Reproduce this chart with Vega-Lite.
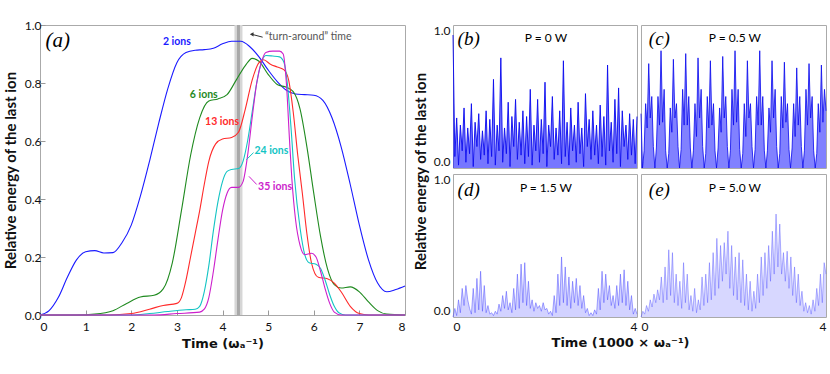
{
"$schema":"https://vega.github.io/schema/vega-lite/v6.json",
"padding":{"left":2,"top":18,"right":4,"bottom":4},
"config":{"font":"Lato","view":{"stroke":"#aaa"},
 "axis":{"grid":false,"domain":false,"labelFont":"Lato","labelFontSize":12,"labelColor":"#111","tickColor":"#999","titleFont":"Lato","titleFontSize":15,"titleFontWeight":"bold","titleColor":"#111"},
 "title":{"font":"Lato","fontSize":15,"fontWeight":"bold","color":"#111"}},
"datasets":{
"a":[
{"s":"2 ions","t":0,"e":0},{"s":"2 ions","t":0.2,"e":0.015},{"s":"2 ions","t":0.4,"e":0.06},{"s":"2 ions","t":0.6,"e":0.13},{"s":"2 ions","t":0.8,"e":0.19},{"s":"2 ions","t":1.0,"e":0.218},{"s":"2 ions","t":1.2,"e":0.222},{"s":"2 ions","t":1.4,"e":0.214},{"s":"2 ions","t":1.6,"e":0.215},{"s":"2 ions","t":1.8,"e":0.25},{"s":"2 ions","t":2.0,"e":0.31},{"s":"2 ions","t":2.2,"e":0.41},{"s":"2 ions","t":2.4,"e":0.53},{"s":"2 ions","t":2.6,"e":0.66},{"s":"2 ions","t":2.8,"e":0.78},{"s":"2 ions","t":3.0,"e":0.87},{"s":"2 ions","t":3.2,"e":0.905},{"s":"2 ions","t":3.4,"e":0.913},{"s":"2 ions","t":3.6,"e":0.915},{"s":"2 ions","t":3.8,"e":0.92},{"s":"2 ions","t":4.0,"e":0.935},{"s":"2 ions","t":4.2,"e":0.944},{"s":"2 ions","t":4.4,"e":0.944},{"s":"2 ions","t":4.6,"e":0.925},{"s":"2 ions","t":4.8,"e":0.89},{"s":"2 ions","t":5.0,"e":0.845},{"s":"2 ions","t":5.2,"e":0.805},{"s":"2 ions","t":5.4,"e":0.775},{"s":"2 ions","t":5.6,"e":0.762},{"s":"2 ions","t":5.8,"e":0.76},{"s":"2 ions","t":6.0,"e":0.758},{"s":"2 ions","t":6.2,"e":0.74},{"s":"2 ions","t":6.4,"e":0.68},{"s":"2 ions","t":6.6,"e":0.58},{"s":"2 ions","t":6.8,"e":0.45},{"s":"2 ions","t":7.0,"e":0.31},{"s":"2 ions","t":7.2,"e":0.19},{"s":"2 ions","t":7.4,"e":0.11},{"s":"2 ions","t":7.6,"e":0.08},{"s":"2 ions","t":7.8,"e":0.088},{"s":"2 ions","t":8.0,"e":0.1},
{"s":"6 ions","t":0,"e":0},{"s":"6 ions","t":0.8,"e":0},{"s":"6 ions","t":1.2,"e":0.003},{"s":"6 ions","t":1.6,"e":0.015},{"s":"6 ions","t":1.9,"e":0.04},{"s":"6 ions","t":2.2,"e":0.062},{"s":"6 ions","t":2.5,"e":0.068},{"s":"6 ions","t":2.7,"e":0.09},{"s":"6 ions","t":2.9,"e":0.18},{"s":"6 ions","t":3.1,"e":0.36},{"s":"6 ions","t":3.3,"e":0.55},{"s":"6 ions","t":3.5,"e":0.68},{"s":"6 ions","t":3.7,"e":0.738},{"s":"6 ions","t":3.9,"e":0.745},{"s":"6 ions","t":4.1,"e":0.76},{"s":"6 ions","t":4.3,"e":0.81},{"s":"6 ions","t":4.5,"e":0.86},{"s":"6 ions","t":4.65,"e":0.885},{"s":"6 ions","t":4.8,"e":0.875},{"s":"6 ions","t":5.0,"e":0.83},{"s":"6 ions","t":5.2,"e":0.795},{"s":"6 ions","t":5.4,"e":0.785},{"s":"6 ions","t":5.55,"e":0.77},{"s":"6 ions","t":5.7,"e":0.71},{"s":"6 ions","t":5.85,"e":0.58},{"s":"6 ions","t":6.0,"e":0.42},{"s":"6 ions","t":6.15,"e":0.27},{"s":"6 ions","t":6.3,"e":0.16},{"s":"6 ions","t":6.45,"e":0.105},{"s":"6 ions","t":6.6,"e":0.093},{"s":"6 ions","t":6.8,"e":0.097},{"s":"6 ions","t":7.0,"e":0.08},{"s":"6 ions","t":7.2,"e":0.045},{"s":"6 ions","t":7.4,"e":0.015},{"s":"6 ions","t":7.6,"e":0.003},{"s":"6 ions","t":8.0,"e":0},
{"s":"13 ions","t":0,"e":0},{"s":"13 ions","t":1.5,"e":0},{"s":"13 ions","t":2.0,"e":0.005},{"s":"13 ions","t":2.4,"e":0.02},{"s":"13 ions","t":2.7,"e":0.033},{"s":"13 ions","t":3.0,"e":0.04},{"s":"13 ions","t":3.1,"e":0.06},{"s":"13 ions","t":3.2,"e":0.12},{"s":"13 ions","t":3.3,"e":0.2},{"s":"13 ions","t":3.4,"e":0.28},{"s":"13 ions","t":3.5,"e":0.36},{"s":"13 ions","t":3.6,"e":0.45},{"s":"13 ions","t":3.7,"e":0.53},{"s":"13 ions","t":3.85,"e":0.59},{"s":"13 ions","t":4.0,"e":0.607},{"s":"13 ions","t":4.2,"e":0.612},{"s":"13 ions","t":4.35,"e":0.63},{"s":"13 ions","t":4.5,"e":0.71},{"s":"13 ions","t":4.65,"e":0.81},{"s":"13 ions","t":4.8,"e":0.87},{"s":"13 ions","t":4.9,"e":0.88},{"s":"13 ions","t":5.05,"e":0.865},{"s":"13 ions","t":5.2,"e":0.855},{"s":"13 ions","t":5.35,"e":0.845},{"s":"13 ions","t":5.45,"e":0.81},{"s":"13 ions","t":5.55,"e":0.7},{"s":"13 ions","t":5.65,"e":0.55},{"s":"13 ions","t":5.75,"e":0.42},{"s":"13 ions","t":5.85,"e":0.28},{"s":"13 ions","t":5.95,"e":0.18},{"s":"13 ions","t":6.1,"e":0.13},{"s":"13 ions","t":6.3,"e":0.125},{"s":"13 ions","t":6.45,"e":0.11},{"s":"13 ions","t":6.6,"e":0.08},{"s":"13 ions","t":6.8,"e":0.03},{"s":"13 ions","t":7.0,"e":0.005},{"s":"13 ions","t":7.2,"e":0},{"s":"13 ions","t":8.0,"e":0},
{"s":"24 ions","t":0,"e":0},{"s":"24 ions","t":2.0,"e":0},{"s":"24 ions","t":2.4,"e":0.005},{"s":"24 ions","t":2.8,"e":0.012},{"s":"24 ions","t":3.2,"e":0.018},{"s":"24 ions","t":3.4,"e":0.02},{"s":"24 ions","t":3.5,"e":0.03},{"s":"24 ions","t":3.6,"e":0.08},{"s":"24 ions","t":3.7,"e":0.17},{"s":"24 ions","t":3.8,"e":0.29},{"s":"24 ions","t":3.9,"e":0.39},{"s":"24 ions","t":4.0,"e":0.46},{"s":"24 ions","t":4.1,"e":0.495},{"s":"24 ions","t":4.2,"e":0.502},{"s":"24 ions","t":4.35,"e":0.505},{"s":"24 ions","t":4.45,"e":0.53},{"s":"24 ions","t":4.55,"e":0.6},{"s":"24 ions","t":4.65,"e":0.7},{"s":"24 ions","t":4.75,"e":0.8},{"s":"24 ions","t":4.85,"e":0.87},{"s":"24 ions","t":4.95,"e":0.895},{"s":"24 ions","t":5.1,"e":0.893},{"s":"24 ions","t":5.25,"e":0.89},{"s":"24 ions","t":5.35,"e":0.87},{"s":"24 ions","t":5.42,"e":0.8},{"s":"24 ions","t":5.5,"e":0.65},{"s":"24 ions","t":5.58,"e":0.47},{"s":"24 ions","t":5.7,"e":0.3},{"s":"24 ions","t":5.8,"e":0.21},{"s":"24 ions","t":5.9,"e":0.18},{"s":"24 ions","t":6.05,"e":0.175},{"s":"24 ions","t":6.15,"e":0.16},{"s":"24 ions","t":6.25,"e":0.12},{"s":"24 ions","t":6.35,"e":0.07},{"s":"24 ions","t":6.45,"e":0.03},{"s":"24 ions","t":6.55,"e":0.008},{"s":"24 ions","t":6.7,"e":0},{"s":"24 ions","t":8.0,"e":0},
{"s":"35 ions","t":0,"e":0},{"s":"35 ions","t":2.5,"e":0},{"s":"35 ions","t":3.0,"e":0.005},{"s":"35 ions","t":3.5,"e":0.01},{"s":"35 ions","t":3.6,"e":0.02},{"s":"35 ions","t":3.7,"e":0.06},{"s":"35 ions","t":3.8,"e":0.15},{"s":"35 ions","t":3.9,"e":0.26},{"s":"35 ions","t":4.0,"e":0.36},{"s":"35 ions","t":4.1,"e":0.42},{"s":"35 ions","t":4.2,"e":0.44},{"s":"35 ions","t":4.35,"e":0.44},{"s":"35 ions","t":4.45,"e":0.46},{"s":"35 ions","t":4.55,"e":0.55},{"s":"35 ions","t":4.65,"e":0.68},{"s":"35 ions","t":4.75,"e":0.8},{"s":"35 ions","t":4.85,"e":0.87},{"s":"35 ions","t":4.95,"e":0.905},{"s":"35 ions","t":5.1,"e":0.91},{"s":"35 ions","t":5.25,"e":0.91},{"s":"35 ions","t":5.33,"e":0.9},{"s":"35 ions","t":5.4,"e":0.8},{"s":"35 ions","t":5.47,"e":0.6},{"s":"35 ions","t":5.52,"e":0.47},{"s":"35 ions","t":5.6,"e":0.33},{"s":"35 ions","t":5.7,"e":0.24},{"s":"35 ions","t":5.8,"e":0.208},{"s":"35 ions","t":5.95,"e":0.213},{"s":"35 ions","t":6.05,"e":0.2},{"s":"35 ions","t":6.15,"e":0.15},{"s":"35 ions","t":6.25,"e":0.09},{"s":"35 ions","t":6.35,"e":0.04},{"s":"35 ions","t":6.45,"e":0.01},{"s":"35 ions","t":6.6,"e":0},{"s":"35 ions","t":8.0,"e":0}
],
"b":[
{"t":0,"e":0.93},{"t":0.04,"e":0.08},{"t":0.08,"e":0.35},{"t":0.12,"e":0.02},{"t":0.16,"e":0.3},{"t":0.2,"e":0.12},{"t":0.24,"e":0.42},{"t":0.28,"e":0.04},{"t":0.32,"e":0.28},{"t":0.36,"e":0.1},
{"t":0.4,"e":0.45},{"t":0.44,"e":0.01},{"t":0.48,"e":0.32},{"t":0.52,"e":0.15},{"t":0.56,"e":0.38},{"t":0.6,"e":0.06},{"t":0.64,"e":0.26},{"t":0.68,"e":0.09},{"t":0.72,"e":0.4},{"t":0.76,"e":0.03},
{"t":0.8,"e":0.34},{"t":0.84,"e":0.08},{"t":0.88,"e":0.62},{"t":0.92,"e":0.02},{"t":0.96,"e":0.3},{"t":1.0,"e":0.12},{"t":1.04,"e":0.77},{"t":1.08,"e":0.04},{"t":1.12,"e":0.28},{"t":1.16,"e":0.1},
{"t":1.2,"e":0.46},{"t":1.24,"e":0.01},{"t":1.28,"e":0.36},{"t":1.32,"e":0.15},{"t":1.36,"e":0.48},{"t":1.4,"e":0.06},{"t":1.44,"e":0.32},{"t":1.48,"e":0.09},{"t":1.52,"e":0.4},{"t":1.56,"e":0.03},
{"t":1.6,"e":0.36},{"t":1.64,"e":0.08},{"t":1.68,"e":0.55},{"t":1.72,"e":0.02},{"t":1.76,"e":0.3},{"t":1.8,"e":0.12},{"t":1.84,"e":0.48},{"t":1.88,"e":0.04},{"t":1.92,"e":0.34},{"t":1.96,"e":0.1},
{"t":2.0,"e":0.6},{"t":2.04,"e":0.01},{"t":2.08,"e":0.3},{"t":2.12,"e":0.15},{"t":2.16,"e":0.5},{"t":2.2,"e":0.06},{"t":2.24,"e":0.28},{"t":2.28,"e":0.09},{"t":2.32,"e":0.4},{"t":2.36,"e":0.03},
{"t":2.4,"e":0.75},{"t":2.44,"e":0.08},{"t":2.48,"e":0.32},{"t":2.52,"e":0.02},{"t":2.56,"e":0.42},{"t":2.6,"e":0.12},{"t":2.64,"e":0.3},{"t":2.68,"e":0.04},{"t":2.72,"e":0.46},{"t":2.76,"e":0.1},
{"t":2.8,"e":0.28},{"t":2.84,"e":0.01},{"t":2.88,"e":0.52},{"t":2.92,"e":0.15},{"t":2.96,"e":0.34},{"t":3.0,"e":0.06},{"t":3.04,"e":0.4},{"t":3.08,"e":0.09},{"t":3.12,"e":0.3},{"t":3.16,"e":0.03},
{"t":3.2,"e":0.44},{"t":3.24,"e":0.08},{"t":3.28,"e":0.36},{"t":3.32,"e":0.02},{"t":3.36,"e":0.72},{"t":3.4,"e":0.12},{"t":3.44,"e":0.32},{"t":3.48,"e":0.04},{"t":3.52,"e":0.48},{"t":3.56,"e":0.1},
{"t":3.6,"e":0.56},{"t":3.64,"e":0.01},{"t":3.68,"e":0.4},{"t":3.72,"e":0.15},{"t":3.76,"e":0.3},{"t":3.8,"e":0.06},{"t":3.84,"e":0.38},{"t":3.88,"e":0.09},{"t":3.92,"e":0.34},{"t":3.96,"e":0.03},
{"t":4.0,"e":0.36}
],
"c":[
{"t":0,"e":0.38},
{"t":0.033,"e":0.0},{"t":0.067,"e":0.12},{"t":0.1,"e":0.45},{"t":0.133,"e":0.28},{"t":0.167,"e":0.73},{"t":0.2,"e":0.35},{"t":0.233,"e":0.5},{"t":0.267,"e":0.15},
{"t":0.3,"e":0.0},{"t":0.333,"e":0.14},{"t":0.367,"e":0.5},{"t":0.4,"e":0.3},{"t":0.433,"e":0.82},{"t":0.467,"e":0.32},{"t":0.5,"e":0.55},{"t":0.533,"e":0.12},
{"t":0.567,"e":0.0},{"t":0.6,"e":0.1},{"t":0.633,"e":0.42},{"t":0.667,"e":0.25},{"t":0.7,"e":0.76},{"t":0.733,"e":0.35},{"t":0.767,"e":0.45},{"t":0.8,"e":0.15},
{"t":0.833,"e":0.0},{"t":0.867,"e":0.13},{"t":0.9,"e":0.55},{"t":0.933,"e":0.3},{"t":0.967,"e":0.8},{"t":1.0,"e":0.3},{"t":1.033,"e":0.5},{"t":1.067,"e":0.14},
{"t":1.1,"e":0.0},{"t":1.133,"e":0.12},{"t":1.167,"e":0.45},{"t":1.2,"e":0.22},{"t":1.233,"e":0.77},{"t":1.267,"e":0.35},{"t":1.3,"e":0.55},{"t":1.333,"e":0.15},
{"t":1.367,"e":0.0},{"t":1.4,"e":0.1},{"t":1.433,"e":0.5},{"t":1.467,"e":0.28},{"t":1.5,"e":0.75},{"t":1.533,"e":0.3},{"t":1.567,"e":0.45},{"t":1.6,"e":0.12},
{"t":1.633,"e":0.0},{"t":1.667,"e":0.14},{"t":1.7,"e":0.42},{"t":1.733,"e":0.25},{"t":1.767,"e":0.78},{"t":1.8,"e":0.35},{"t":1.833,"e":0.5},{"t":1.867,"e":0.15},
{"t":1.9,"e":0.0},{"t":1.933,"e":0.12},{"t":1.967,"e":0.55},{"t":2.0,"e":0.3},{"t":2.033,"e":0.82},{"t":2.067,"e":0.32},{"t":2.1,"e":0.55},{"t":2.133,"e":0.13},
{"t":2.167,"e":0.0},{"t":2.2,"e":0.1},{"t":2.233,"e":0.45},{"t":2.267,"e":0.22},{"t":2.3,"e":0.75},{"t":2.333,"e":0.35},{"t":2.367,"e":0.45},{"t":2.4,"e":0.15},
{"t":2.433,"e":0.0},{"t":2.467,"e":0.13},{"t":2.5,"e":0.5},{"t":2.533,"e":0.3},{"t":2.567,"e":0.82},{"t":2.6,"e":0.3},{"t":2.633,"e":0.5},{"t":2.667,"e":0.12},
{"t":2.7,"e":0.0},{"t":2.733,"e":0.12},{"t":2.767,"e":0.42},{"t":2.8,"e":0.25},{"t":2.833,"e":0.75},{"t":2.867,"e":0.35},{"t":2.9,"e":0.55},{"t":2.933,"e":0.15},
{"t":2.967,"e":0.0},{"t":3.0,"e":0.1},{"t":3.033,"e":0.5},{"t":3.067,"e":0.28},{"t":3.1,"e":0.74},{"t":3.133,"e":0.32},{"t":3.167,"e":0.45},{"t":3.2,"e":0.13},
{"t":3.233,"e":0.0},{"t":3.267,"e":0.14},{"t":3.3,"e":0.45},{"t":3.333,"e":0.22},{"t":3.367,"e":0.7},{"t":3.4,"e":0.3},{"t":3.433,"e":0.5},{"t":3.467,"e":0.15},
{"t":3.5,"e":0.0},{"t":3.533,"e":0.12},{"t":3.567,"e":0.55},{"t":3.6,"e":0.3},{"t":3.633,"e":0.73},{"t":3.667,"e":0.35},{"t":3.7,"e":0.5},{"t":3.733,"e":0.12},
{"t":3.767,"e":0.0},{"t":3.8,"e":0.1},{"t":3.833,"e":0.45},{"t":3.867,"e":0.25},{"t":3.9,"e":0.72},{"t":3.933,"e":0.32},{"t":3.967,"e":0.55},{"t":4.0,"e":0.4}
],
"d":[
{"t":0,"e":0},{"t":0.04,"e":0.06},{"t":0.08,"e":0.01},{"t":0.12,"e":0.12},{"t":0.16,"e":0.03},{"t":0.2,"e":0.2},{"t":0.24,"e":0.08},{"t":0.28,"e":0.22},{"t":0.32,"e":0.12},{"t":0.36,"e":0.06},
{"t":0.4,"e":0.02},{"t":0.44,"e":0.2},{"t":0.48,"e":0.03},{"t":0.52,"e":0.27},{"t":0.56,"e":0.05},{"t":0.6,"e":0.32},{"t":0.64,"e":0.04},{"t":0.68,"e":0.22},{"t":0.72,"e":0.03},{"t":0.76,"e":0.08},
{"t":0.8,"e":0.02},{"t":0.84,"e":0.03},{"t":0.88,"e":0.01},{"t":0.92,"e":0.04},{"t":0.96,"e":0.02},{"t":1.0,"e":0.09},{"t":1.04,"e":0.04},{"t":1.08,"e":0.15},{"t":1.12,"e":0.06},{"t":1.16,"e":0.18},
{"t":1.2,"e":0.05},{"t":1.24,"e":0.1},{"t":1.28,"e":0.03},{"t":1.32,"e":0.2},{"t":1.36,"e":0.05},{"t":1.4,"e":0.3},{"t":1.44,"e":0.06},{"t":1.48,"e":0.37},{"t":1.52,"e":0.1},{"t":1.56,"e":0.38},
{"t":1.6,"e":0.08},{"t":1.64,"e":0.25},{"t":1.68,"e":0.06},{"t":1.72,"e":0.12},{"t":1.76,"e":0.04},{"t":1.8,"e":0.1},{"t":1.84,"e":0.06},{"t":1.88,"e":0.08},{"t":1.92,"e":0.04},{"t":1.96,"e":0.1},
{"t":2.0,"e":0.05},{"t":2.04,"e":0.06},{"t":2.08,"e":0.02},{"t":2.12,"e":0.04},{"t":2.16,"e":0.01},{"t":2.2,"e":0.15},{"t":2.24,"e":0.03},{"t":2.28,"e":0.3},{"t":2.32,"e":0.08},{"t":2.36,"e":0.42},
{"t":2.4,"e":0.1},{"t":2.44,"e":0.35},{"t":2.48,"e":0.08},{"t":2.52,"e":0.28},{"t":2.56,"e":0.06},{"t":2.6,"e":0.25},{"t":2.64,"e":0.1},{"t":2.68,"e":0.27},{"t":2.72,"e":0.08},{"t":2.76,"e":0.22},
{"t":2.8,"e":0.06},{"t":2.84,"e":0.15},{"t":2.88,"e":0.03},{"t":2.92,"e":0.06},{"t":2.96,"e":0.01},{"t":3.0,"e":0.03},{"t":3.04,"e":0.01},{"t":3.08,"e":0.05},{"t":3.12,"e":0.02},{"t":3.16,"e":0.2},
{"t":3.2,"e":0.05},{"t":3.24,"e":0.32},{"t":3.28,"e":0.1},{"t":3.32,"e":0.3},{"t":3.36,"e":0.12},{"t":3.4,"e":0.22},{"t":3.44,"e":0.08},{"t":3.48,"e":0.15},{"t":3.52,"e":0.06},{"t":3.56,"e":0.22},
{"t":3.6,"e":0.08},{"t":3.64,"e":0.3},{"t":3.68,"e":0.1},{"t":3.72,"e":0.33},{"t":3.76,"e":0.08},{"t":3.8,"e":0.25},{"t":3.84,"e":0.05},{"t":3.88,"e":0.15},{"t":3.92,"e":0.02},{"t":3.96,"e":0.06},
{"t":4.0,"e":0.02}
],
"e":[
{"t":0,"e":0},{"t":0.04,"e":0.04},{"t":0.08,"e":0.02},{"t":0.12,"e":0.08},{"t":0.16,"e":0.04},{"t":0.2,"e":0.12},{"t":0.24,"e":0.07},{"t":0.28,"e":0.16},{"t":0.32,"e":0.1},{"t":0.36,"e":0.19},
{"t":0.4,"e":0.12},{"t":0.44,"e":0.28},{"t":0.48,"e":0.1},{"t":0.52,"e":0.35},{"t":0.56,"e":0.12},{"t":0.6,"e":0.47},{"t":0.64,"e":0.15},{"t":0.68,"e":0.45},{"t":0.72,"e":0.1},{"t":0.76,"e":0.3},
{"t":0.8,"e":0.08},{"t":0.84,"e":0.25},{"t":0.88,"e":0.06},{"t":0.92,"e":0.38},{"t":0.96,"e":0.1},{"t":1.0,"e":0.3},{"t":1.04,"e":0.05},{"t":1.08,"e":0.15},{"t":1.12,"e":0.04},{"t":1.16,"e":0.2},
{"t":1.2,"e":0.03},{"t":1.24,"e":0.12},{"t":1.28,"e":0.05},{"t":1.32,"e":0.28},{"t":1.36,"e":0.08},{"t":1.4,"e":0.3},{"t":1.44,"e":0.1},{"t":1.48,"e":0.38},{"t":1.52,"e":0.12},{"t":1.56,"e":0.45},
{"t":1.6,"e":0.15},{"t":1.64,"e":0.55},{"t":1.68,"e":0.2},{"t":1.72,"e":0.5},{"t":1.76,"e":0.25},{"t":1.8,"e":0.52},{"t":1.84,"e":0.3},{"t":1.88,"e":0.6},{"t":1.92,"e":0.2},{"t":1.96,"e":0.5},
{"t":2.0,"e":0.15},{"t":2.04,"e":0.42},{"t":2.08,"e":0.12},{"t":2.12,"e":0.45},{"t":2.16,"e":0.1},{"t":2.2,"e":0.4},{"t":2.24,"e":0.08},{"t":2.28,"e":0.3},{"t":2.32,"e":0.05},{"t":2.36,"e":0.25},
{"t":2.4,"e":0.04},{"t":2.44,"e":0.18},{"t":2.48,"e":0.06},{"t":2.52,"e":0.3},{"t":2.56,"e":0.1},{"t":2.6,"e":0.42},{"t":2.64,"e":0.15},{"t":2.68,"e":0.45},{"t":2.72,"e":0.2},{"t":2.76,"e":0.5},
{"t":2.8,"e":0.25},{"t":2.84,"e":0.6},{"t":2.88,"e":0.3},{"t":2.92,"e":0.72},{"t":2.96,"e":0.35},{"t":3.0,"e":0.65},{"t":3.04,"e":0.3},{"t":3.08,"e":0.45},{"t":3.12,"e":0.25},{"t":3.16,"e":0.46},
{"t":3.2,"e":0.2},{"t":3.24,"e":0.42},{"t":3.28,"e":0.15},{"t":3.32,"e":0.35},{"t":3.36,"e":0.1},{"t":3.4,"e":0.3},{"t":3.44,"e":0.08},{"t":3.48,"e":0.18},{"t":3.52,"e":0.04},{"t":3.56,"e":0.1},
{"t":3.6,"e":0.03},{"t":3.64,"e":0.08},{"t":3.68,"e":0.02},{"t":3.72,"e":0.12},{"t":3.76,"e":0.04},{"t":3.8,"e":0.2},{"t":3.84,"e":0.08},{"t":3.88,"e":0.3},{"t":3.92,"e":0.1},{"t":3.96,"e":0.38},
{"t":4.0,"e":0.3}
]
},
"spacing":4,
"hconcat":[
{
 "width":365,"height":290,
 "layer":[
  {"data":{"values":[{}]},"mark":{"type":"rule","color":"#d6d6d6","strokeWidth":8},"encoding":{"x":{"datum":4.35}}},
  {"data":{"values":[{}]},"mark":{"type":"rule","color":"#a8a8a8","strokeWidth":3},"encoding":{"x":{"datum":4.35}}},
  {"data":{"name":"a"},"mark":{"type":"line","interpolate":"monotone","strokeWidth":1.1},
   "encoding":{
    "x":{"field":"t","type":"quantitative","scale":{"domain":[0,8],"nice":false},"axis":{"values":[0,1,2,3,4,5,6,7,8],"title":"Time  (ωₐ⁻¹)","titleFont":"DejaVu Sans","titleFontSize":13,"tickSize":-5,"labelPadding":11,"titlePadding":5}},
    "y":{"field":"e","type":"quantitative","scale":{"domain":[0,1],"nice":false},"axis":{"values":[0,0.2,0.4,0.6,0.8,1],"format":".1f","title":"Relative energy of the last ion","tickSize":-5,"labelPadding":4,"titlePadding":6}},
    "color":{"field":"s","type":"nominal","scale":{"domain":["2 ions","6 ions","13 ions","24 ions","35 ions"],"range":["#1a1aff","#1f8a1f","#ff2a2a","#13c4c4","#cc1fcc"]},"legend":null}
   }},
  {"data":{"values":[{}]},"mark":{"type":"text","text":"(a)","font":"Liberation Serif","fontStyle":"italic","fontSize":21,"align":"left"},"encoding":{"x":{"datum":0.12},"y":{"datum":0.945}}},
  {"data":{"values":[{}]},"mark":{"type":"text","text":"2 ions","fontWeight":"bold","fontSize":10.5,"color":"#1a1aff"},"encoding":{"x":{"datum":3.0},"y":{"datum":0.94}}},
  {"data":{"values":[{}]},"mark":{"type":"text","text":"6 ions","fontWeight":"bold","fontSize":10.5,"color":"#1f8a1f"},"encoding":{"x":{"datum":3.59},"y":{"datum":0.76}}},
  {"data":{"values":[{}]},"mark":{"type":"text","text":"13 ions","fontWeight":"bold","fontSize":10.5,"color":"#ff2a2a"},"encoding":{"x":{"datum":3.99},"y":{"datum":0.665}}},
  {"data":{"values":[{}]},"mark":{"type":"text","text":"24 ions","fontWeight":"bold","fontSize":10.5,"color":"#13c4c4","align":"left"},"encoding":{"x":{"datum":4.7},"y":{"datum":0.565}}},
  {"data":{"values":[{}]},"mark":{"type":"text","text":"35 ions","fontWeight":"bold","fontSize":10.5,"color":"#cc1fcc","align":"left"},"encoding":{"x":{"datum":4.78},"y":{"datum":0.44}}},
  {"data":{"values":[{}]},"mark":{"type":"text","text":"“turn-around” time","fontSize":10.5,"color":"#555","align":"left"},"encoding":{"x":{"datum":4.93},"y":{"datum":0.958}}},
  {"data":{"values":[{}]},"mark":{"type":"rule","color":"#13c4c4","strokeWidth":1},"encoding":{"x":{"datum":4.52},"y":{"datum":0.535},"x2":{"datum":4.68},"y2":{"datum":0.56}}},
  {"data":{"values":[{}]},"mark":{"type":"rule","color":"#cc1fcc","strokeWidth":1},"encoding":{"x":{"datum":4.58},"y":{"datum":0.478},"x2":{"datum":4.75},"y2":{"datum":0.45}}},
  {"data":{"values":[{}]},"mark":{"type":"rule","color":"#333","strokeWidth":1},"encoding":{"x":{"datum":4.64},"y":{"datum":0.968},"x2":{"datum":4.88},"y2":{"datum":0.958}}},
  {"data":{"values":[{}]},"mark":{"type":"point","shape":"triangle-left","filled":true,"size":18,"color":"#333","opacity":1},"encoding":{"x":{"datum":4.64},"y":{"datum":0.968}}}
 ]
},
{
 "title":{"text":"Time  (1000 × ωₐ⁻¹)","font":"DejaVu Sans","fontSize":13,"orient":"bottom","anchor":"middle","frame":"bounds","offset":4},
 "columns":2,
 "spacing":{"row":6,"column":4},
 "bounds":"flush",
 "concat":[
  {"width":184,"height":143,"layer":[
    {"data":{"name":"b"},"mark":{"type":"area","color":"#1a1aff","opacity":0.6},"encoding":{"x":{"field":"t","type":"quantitative","scale":{"domain":[0,4],"nice":false},"axis":null},"y":{"field":"e","type":"quantitative","scale":{"domain":[0,1],"nice":false},"axis":{"values":[0,1],"format":".1f","title":"Relative energy of the last ion","titleY":146,"titleAlign":"center","titleLimit":300,"titlePadding":5,"ticks":false,"labelPadding":3,"labelFlush":true}}}},
    {"data":{"name":"b"},"mark":{"type":"line","color":"#0a0aee","strokeWidth":1,"opacity":0.9},"encoding":{"x":{"field":"t","type":"quantitative"},"y":{"field":"e","type":"quantitative"}}},
    {"data":{"values":[{}]},"mark":{"type":"text","text":"(b)","font":"Liberation Serif","fontStyle":"italic","fontSize":19,"align":"left"},"encoding":{"x":{"datum":0.1},"y":{"datum":0.9}}},
    {"data":{"values":[{}]},"mark":{"type":"text","text":"P = 0 W","fontSize":12},"encoding":{"x":{"datum":2.02},"y":{"datum":0.91}}}
  ]},
  {"width":185,"height":143,"layer":[
    {"data":{"name":"c"},"mark":{"type":"area","color":"#1a1aff","opacity":0.55},"encoding":{"x":{"field":"t","type":"quantitative","scale":{"domain":[0,4],"nice":false},"axis":null},"y":{"field":"e","type":"quantitative","scale":{"domain":[0,1],"nice":false},"axis":null}}},
    {"data":{"name":"c"},"mark":{"type":"line","color":"#0a0aee","strokeWidth":0.9,"opacity":0.9},"encoding":{"x":{"field":"t","type":"quantitative"},"y":{"field":"e","type":"quantitative"}}},
    {"data":{"values":[{}]},"mark":{"type":"text","text":"(c)","font":"Liberation Serif","fontStyle":"italic","fontSize":19,"align":"left"},"encoding":{"x":{"datum":0.17},"y":{"datum":0.9}}},
    {"data":{"values":[{}]},"mark":{"type":"text","text":"P = 0.5 W","fontSize":12},"encoding":{"x":{"datum":2.03},"y":{"datum":0.91}}}
  ]},
  {"width":184,"height":143,"layer":[
    {"data":{"name":"d"},"mark":{"type":"area","color":"#6a6aff","opacity":0.3},"encoding":{"x":{"field":"t","type":"quantitative","scale":{"domain":[0,4],"nice":false},"axis":{"values":[0,4],"format":"d","title":null,"ticks":false,"labelPadding":4}},"y":{"field":"e","type":"quantitative","scale":{"domain":[0,1],"nice":false},"axis":{"values":[0,1],"format":".1f","title":null,"ticks":false,"labelPadding":3,"labelFlush":true}}}},
    {"data":{"name":"d"},"mark":{"type":"line","color":"#4a4aff","strokeWidth":0.7,"opacity":0.7},"encoding":{"x":{"field":"t","type":"quantitative"},"y":{"field":"e","type":"quantitative"}}},
    {"data":{"values":[{}]},"mark":{"type":"text","text":"(d)","font":"Liberation Serif","fontStyle":"italic","fontSize":19,"align":"left"},"encoding":{"x":{"datum":0.1},"y":{"datum":0.89}}},
    {"data":{"values":[{}]},"mark":{"type":"text","text":"P = 1.5 W","fontSize":12},"encoding":{"x":{"datum":2.02},"y":{"datum":0.9}}}
  ]},
  {"width":185,"height":143,"layer":[
    {"data":{"name":"e"},"mark":{"type":"area","color":"#7a7aff","opacity":0.3},"encoding":{"x":{"field":"t","type":"quantitative","scale":{"domain":[0,4],"nice":false},"axis":{"values":[0,4],"format":"d","title":null,"ticks":false,"labelPadding":4}},"y":{"field":"e","type":"quantitative","scale":{"domain":[0,1],"nice":false},"axis":null}}},
    {"data":{"name":"e"},"mark":{"type":"line","color":"#5a5aff","strokeWidth":0.7,"opacity":0.65},"encoding":{"x":{"field":"t","type":"quantitative"},"y":{"field":"e","type":"quantitative"}}},
    {"data":{"values":[{}]},"mark":{"type":"text","text":"(e)","font":"Liberation Serif","fontStyle":"italic","fontSize":19,"align":"left"},"encoding":{"x":{"datum":0.17},"y":{"datum":0.89}}},
    {"data":{"values":[{}]},"mark":{"type":"text","text":"P = 5.0 W","fontSize":12},"encoding":{"x":{"datum":2.03},"y":{"datum":0.9}}}
  ]}
 ]
}
]
}
